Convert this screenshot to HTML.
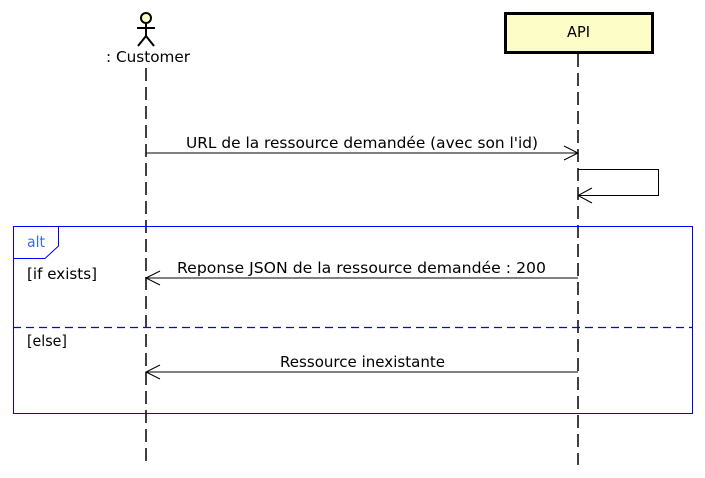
<!DOCTYPE html>
<html><head><meta charset="utf-8"><style>
html,body{margin:0;padding:0;background:#fff;}
svg{display:block;font-family:"DejaVu Sans","Liberation Sans",sans-serif;}
</style></head><body>
<svg width="705" height="478" viewBox="0 0 705 478" xmlns="http://www.w3.org/2000/svg">
<rect width="705" height="478" fill="#fff"/>
<!-- actor -->
<circle cx="146" cy="18" r="5" fill="#fdfdc8" stroke="#000" stroke-width="2"/>
<line x1="146" y1="23" x2="146" y2="36" stroke="#000" stroke-width="2"/>
<line x1="137" y1="28" x2="155" y2="28" stroke="#000" stroke-width="2"/>
<line x1="146" y1="36" x2="138" y2="46" stroke="#000" stroke-width="2"/>
<line x1="146" y1="36" x2="154" y2="46" stroke="#000" stroke-width="2"/>
<text x="106" y="62" font-size="15" textLength="84" lengthAdjust="spacingAndGlyphs">: Customer</text>
<!-- API box -->
<rect x="505.5" y="13.5" width="147" height="39" fill="#fdfdc8" stroke="#000" stroke-width="3"/>
<text x="567" y="37" font-size="15" textLength="23" lengthAdjust="spacingAndGlyphs">API</text>
<!-- lifelines -->
<line x1="146" y1="68" x2="146" y2="465" stroke="#000" stroke-width="1.5" stroke-dasharray="13,6"/>
<line x1="578" y1="54" x2="578" y2="465" stroke="#000" stroke-width="1.5" stroke-dasharray="13,6"/>
<!-- msg1 -->
<line x1="146" y1="153" x2="578" y2="153" stroke="#000"/>
<polyline points="564,146 578,153 564,160" fill="none" stroke="#000"/>
<text x="186" y="148" font-size="15" textLength="352" lengthAdjust="spacingAndGlyphs">URL de la ressource demandée (avec son l'id)</text>
<!-- self -->
<polyline points="578,169.5 658.5,169.5 658.5,195.5 578,195.5" fill="none" stroke="#000"/>
<polyline points="592,188 578,195.5 592,203" fill="none" stroke="#000"/>
<!-- alt frame -->
<rect x="13.5" y="226.5" width="679" height="187" fill="none" stroke="#00f"/>
<polyline points="13.5,258.5 45,258.5 58.5,246 58.5,226.5" fill="none" stroke="#00f"/>
<text x="27" y="247" font-size="15" fill="#3a6cf0" textLength="18" lengthAdjust="spacingAndGlyphs">alt</text>
<text x="27" y="279" font-size="15" textLength="70" lengthAdjust="spacingAndGlyphs">[if exists]</text>
<line x1="13" y1="327.5" x2="692" y2="327.5" stroke="#0000ff" stroke-width="1.3" stroke-dasharray="8,5"/>
<text x="27" y="346" font-size="15" textLength="40" lengthAdjust="spacingAndGlyphs">[else]</text>
<!-- msg2 -->
<line x1="146" y1="278" x2="578" y2="278" stroke="#000"/>
<polyline points="160,271 146,278 160,285" fill="none" stroke="#000"/>
<text x="177" y="273" font-size="15" textLength="369" lengthAdjust="spacingAndGlyphs">Reponse JSON de la ressource demandée : 200</text>
<!-- msg3 -->
<line x1="146" y1="372" x2="578" y2="372" stroke="#000"/>
<polyline points="160,365 146,372 160,379" fill="none" stroke="#000"/>
<text x="280" y="367" font-size="15" textLength="165" lengthAdjust="spacingAndGlyphs">Ressource inexistante</text>
</svg>
</body></html>
